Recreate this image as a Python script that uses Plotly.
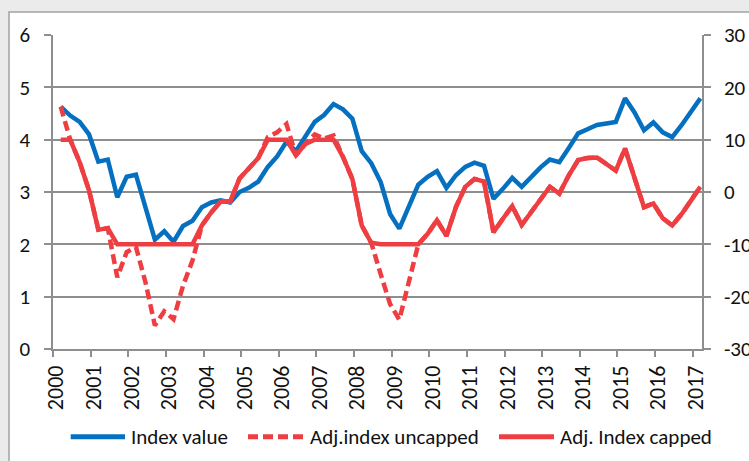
import plotly.graph_objects as go

# Quarterly observations, March 2000 .. March 2017
years = list(range(2000, 2018))
quarter_months = [3, 6, 9, 12]
dates = [f"{y}-{m:02d}-16" for y in years for m in quarter_months][:69]

# Left axis series
index_value = [
    4.63, 4.46, 4.34, 4.10, 3.58, 3.62, 2.90, 3.29, 3.33, 2.74, 2.09, 2.25,
    2.05, 2.35, 2.45, 2.71, 2.80, 2.84, 2.80, 3.00, 3.08, 3.20, 3.48, 3.68,
    3.96, 3.78, 4.05, 4.34, 4.47, 4.68, 4.58, 4.40, 3.78, 3.55, 3.19, 2.58,
    2.30, 2.71, 3.14, 3.29, 3.40, 3.08, 3.32, 3.48, 3.56, 3.50, 2.87, 3.06,
    3.27, 3.10, 3.29, 3.47, 3.62, 3.57, 3.84, 4.12, 4.20, 4.28, 4.31, 4.34,
    4.79, 4.52, 4.18, 4.33, 4.14, 4.05, 4.28, 4.53, 4.79,
]

# Right axis series
adj_uncapped = [
    16.3, 10.0, 5.7, 0.3, -7.2, -6.9, -16.3, -11.5, -10.5, -17.2, -25.5, -22.8,
    -24.3, -17.9, -13.1, -6.4, -3.9, -1.8, -1.8, 2.6, 4.5, 6.5, 10.5, 11.4,
    13.0, 7.0, 9.2, 11.0, 10.2, 10.8, 6.7, 2.5, -6.4, -9.7, -15.7, -21.4,
    -24.4, -17.3, -10.0, -8.0, -5.4, -8.4, -2.9, 1.0, 2.5, 2.0, -7.7, -5.1,
    -2.7, -6.3, -3.8, -1.4, 1.0, -0.3, 3.2, 6.1, 6.5, 6.6, 5.4, 4.1,
    8.3, 2.9, -2.9, -2.2, -5.0, -6.4, -4.2, -1.6, 1.0,
]
adj_capped = [
    10.0, 10.0, 5.7, 0.3, -7.2, -6.9, -10.0, -10.0, -10.0, -10.0, -10.0, -10.0,
    -10.0, -10.0, -10.0, -6.4, -3.9, -1.8, -1.8, 2.6, 4.5, 6.5, 10.0, 10.0,
    10.0, 7.0, 9.2, 10.0, 10.0, 10.0, 6.7, 2.5, -6.4, -9.7, -10.0, -10.0,
    -10.0, -10.0, -10.0, -8.0, -5.4, -8.4, -2.9, 1.0, 2.5, 2.0, -7.7, -5.1,
    -2.7, -6.3, -3.8, -1.4, 1.0, -0.3, 3.2, 6.1, 6.5, 6.6, 5.4, 4.1,
    8.3, 2.9, -2.9, -2.2, -5.0, -6.4, -4.2, -1.6, 1.0,
]

series_names = ["Index value", "Adj.index uncapped", "Adj. Index capped"]
left_ticks = [0, 1, 2, 3, 4, 5, 6]
right_ticks = [-30, -20, -10, 0, 10, 20, 30]
right_tick_labels = ["-30", "-20", "-10", "0", "10", "20", "30"]

BLUE = "#0570C0"
RED = "#EE3E42"
GRID = "#8E8E8E"
FONT = "Carlito, 'Liberation Sans Narrow', 'DejaVu Sans Condensed', Roboto, sans-serif"
TXT = "#111111"

fig = go.Figure()
fig.add_trace(go.Scatter(x=dates, y=adj_uncapped, name=series_names[1], yaxis="y2",
                         mode="lines", line=dict(color=RED, width=4.5, dash="10px,5px")))
fig.add_trace(go.Scatter(x=dates, y=adj_capped, name=series_names[2], yaxis="y2",
                         mode="lines", line=dict(color=RED, width=4.5)))
fig.add_trace(go.Scatter(x=dates, y=index_value, name=series_names[0], yaxis="y",
                         mode="lines", line=dict(color=BLUE, width=4.5)))

fig.update_layout(
    width=749, height=461,
    margin=dict(l=53, r=47, t=34.5, b=112.3, autoexpand=False),
    paper_bgcolor="#EBEBEB", plot_bgcolor="white",
    showlegend=False,
    font=dict(family=FONT, size=21, color=TXT),
    xaxis=dict(
        type="date", range=["2000-01-01", "2017-04-01"],
        tickmode="array", tickvals=[f"{y}-02-01" for y in years],
        ticktext=[str(y) for y in years], tickangle=-90, ticks="",
        tickfont=dict(size=22), automargin=False,
        showgrid=False, showline=True, linecolor=GRID, linewidth=1.5,
        minor=dict(tickmode="array", tickvals=[f"{y}-01-01" for y in years],
                   ticks="outside", ticklen=6, tickcolor=GRID, tickwidth=1.5, showgrid=False),
        ticklabelstandoff=6, zeroline=False,
    ),
    yaxis=dict(
        range=[0, 6], tickmode="array", tickvals=left_ticks, automargin=False,
        showgrid=True, gridcolor=GRID, gridwidth=1.5,
        showline=True, linecolor=GRID, linewidth=1.5,
        ticks="outside", ticklen=7, tickcolor=GRID, tickwidth=1.5,
        ticklabelstandoff=10, zeroline=False,
    ),
    yaxis2=dict(
        range=[-30, 30], tickmode="array", tickvals=right_ticks,
        ticktext=right_tick_labels, automargin=False,
        overlaying="y", side="right", showgrid=False,
        showline=True, linecolor=GRID, linewidth=1.5,
        ticks="outside", ticklen=7, tickcolor=GRID, tickwidth=1.5,
        ticklabelstandoff=9, zeroline=False,
    ),
)

# outer chart frame
W = 649.0
H = 314.2
def px(x):
    return (x - 53) / W
def py(y):
    return (348.7 - y) / H

fig.add_shape(type="rect", xref="paper", yref="paper",
              x0=px(9), x1=px(770), y0=py(480), y1=py(11.5),
              fillcolor="white", line=dict(color="#A3A3A3", width=1.5), layer="below")

# legend drawn manually
legend_y = py(436.5)
items = [
    (series_names[0], BLUE, "solid", 70.7, 125, 129),
    (series_names[1], RED, "dash", 248, 303, 308),
    (series_names[2], RED, "solid", 499, 554, 558),
]
for name, col, dash, x0, x1, xt in items:
    fig.add_shape(type="line", xref="paper", yref="paper",
                  x0=px(x0), x1=px(x1), y0=legend_y, y1=legend_y,
                  line=dict(color=col, width=5, dash=("10px,5px" if dash == "dash" else "solid")))
    fig.add_annotation(xref="paper", yref="paper", x=px(xt), y=legend_y,
                       text=name, showarrow=False, xanchor="left", yanchor="middle",
                       font=dict(family=FONT, size=21, color=TXT))

fig.write_html("out.html", config={"displayModeBar": False},
               post_script="document.body.style.margin='0';document.body.style.overflow='hidden';")
